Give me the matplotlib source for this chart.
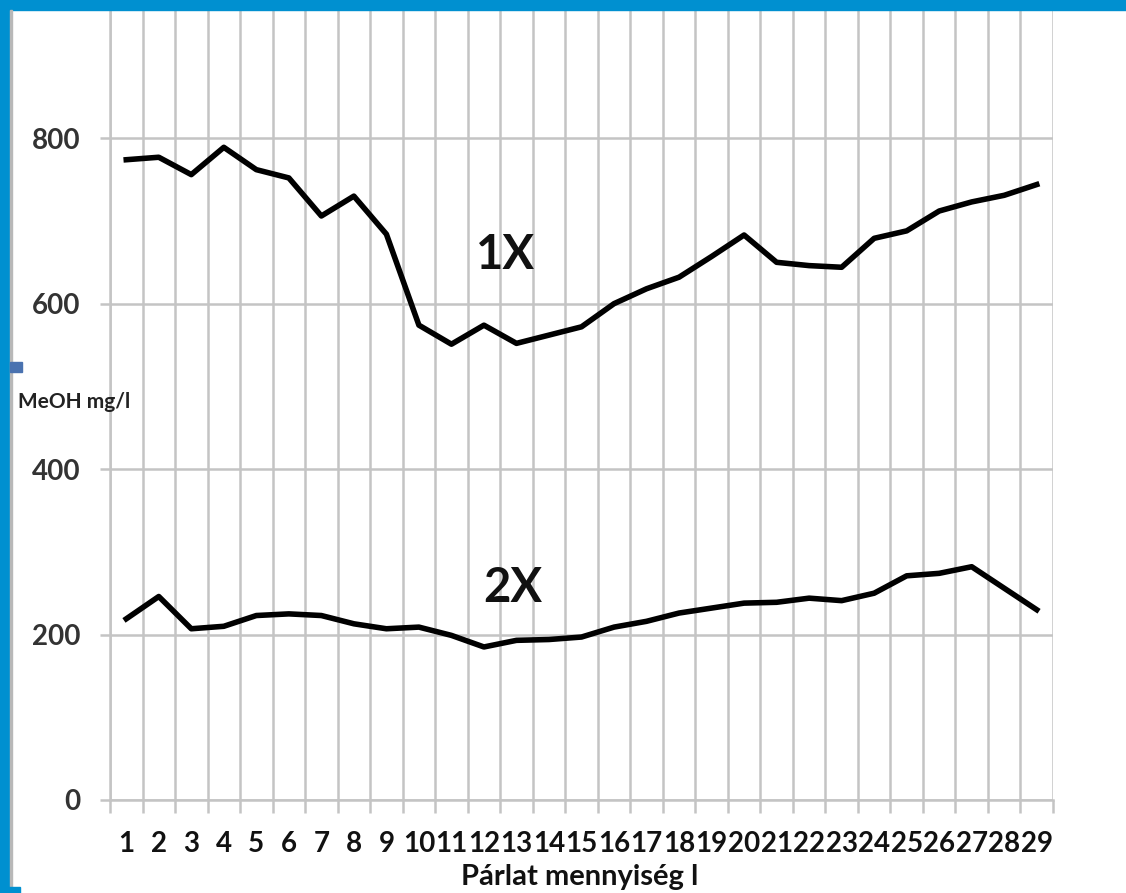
import matplotlib
matplotlib.use("Agg")
import matplotlib.pyplot as plt
from matplotlib.patches import Rectangle
import numpy as np

categories = list(range(1, 30))
series_1x = [774, 777, 756, 789, 762, 752, 706, 730, 684, 574, 551, 574, 552, 562, 572,
             600, 618, 632, 657, 683, 650, 646, 644, 679, 688, 712, 723, 731, 744]
series_2x = [219, 246, 207, 210, 223, 225, 223, 213, 207, 209, 199, 185, 193, 194, 197,
             209, 216, 226, 232, 238, 239, 244, 241, 250, 271, 274, 282, 256, 230]
y_ticks = [0, 200, 400, 600, 800]
x_label = "Párlat mennyiség l"
y_label = "MeOH mg/l"

W, H = 1126, 893
fig = plt.figure(figsize=(W / 100, H / 100), dpi=100)
fig.patch.set_facecolor("white")

ax = fig.add_axes([110 / W, 93 / H, (1053 - 110) / W, (800 - 10) / H])
ax.set_xlim(0.5, 29.5)
ax.set_ylim(0, 955)

grid_c = "#c4c4c4"
ax.plot(categories, series_1x, color="black", lw=4.0, solid_joinstyle="round", zorder=3)
ax.plot(categories, series_2x, color="black", lw=4.0, solid_joinstyle="round", zorder=3)

# grid
ax.set_yticks(y_ticks)
ax.set_xticks(categories)
ax.set_xticks(np.arange(0.5, 30, 1), minor=True)
ax.grid(True, axis="y", which="major", color=grid_c, lw=1.8)
ax.grid(True, axis="x", which="minor", color=grid_c, lw=1.8)
ax.grid(False, axis="x", which="major")
for s in ["top", "right"]:
    ax.spines[s].set_visible(False)
ax.spines["left"].set_color(grid_c)
ax.spines["left"].set_linewidth(1.8)
ax.spines["bottom"].set_color(grid_c)
ax.spines["bottom"].set_linewidth(1.8)

ax.tick_params(axis="y", which="major", length=7.5, width=1.8, color=grid_c,
               pad=14, labelsize=20, labelcolor="#333333")
ax.tick_params(axis="x", which="major", length=0, pad=22, labelsize=20,
               labelcolor="#111111")
ax.tick_params(axis="x", which="minor", length=9, width=1.8, color=grid_c)
ax.set_xticklabels([str(c) for c in categories], fontweight="bold", family="Lato")
ax.set_yticklabels([str(t) for t in y_ticks], fontweight="bold", family="Lato")

ax.text(12.65, 659, "1X", fontsize=34, fontweight="bold", family="Lato",
        ha="center", va="center", color="#111111")
ax.text(12.9, 256, "2X", fontsize=34, fontweight="bold", family="Lato",
        ha="center", va="center", color="#111111")

fig.text(580 / W, 1 - 877 / H, x_label, fontsize=21, fontweight="bold", family="Lato",
         ha="center", va="center", color="#111111")
fig.text(18 / W, 1 - 402 / H, y_label, fontsize=15, fontweight="bold", family="Lato",
         ha="left", va="center", color="#222222")

# frame decorations
blue = "#0090d0"
fig.patches.append(Rectangle((0, 1 - 10 / H), 1, 10 / H, transform=fig.transFigure,
                             color=blue, zorder=10))
fig.patches.append(Rectangle((0, 0), 10 / W, 1, transform=fig.transFigure,
                             color=blue, zorder=10))
fig.patches.append(Rectangle((10 / W, 0), 2 / W, 1 - 10 / H, transform=fig.transFigure,
                             color="#b8b8b8", zorder=10))
fig.patches.append(Rectangle((0, 0), 20 / W, 6 / H, transform=fig.transFigure,
                             color=blue, zorder=10))
fig.patches.append(Rectangle((10 / W, 1 - 372 / H), 12 / W, 10 / H, transform=fig.transFigure,
                             color="#4a72b0", zorder=10))

fig.savefig("out.png", dpi=100)
